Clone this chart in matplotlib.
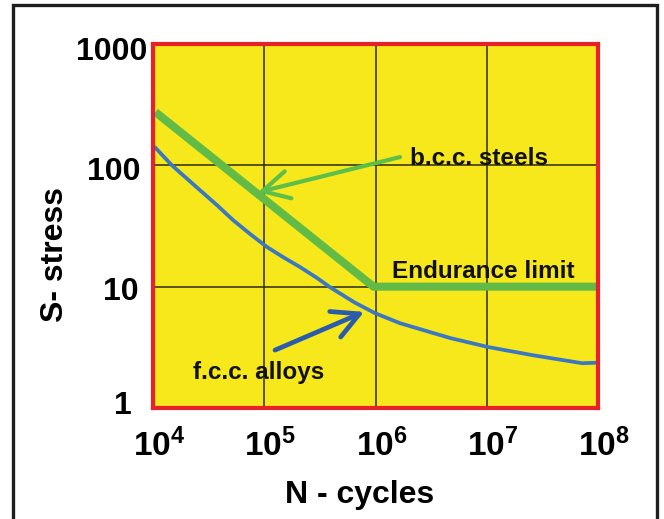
import matplotlib
matplotlib.use("Agg")
import matplotlib.pyplot as plt
from matplotlib.patches import Rectangle
from matplotlib.transforms import ScaledTranslation

# ---- data ----
bcc_N = [1.05e4, 9.6e5, 1.0e8]
bcc_S = [275, 10, 10]

fcc_N = [1.04e4, 1.48e4, 1.86e4, 2.64e4, 3.76e4, 5.24e4, 7.45e4, 1.06e5, 1.48e5,
         2.1e5, 2.98e5, 3.9e5, 6.5e5, 9.9e5, 1.66e6, 4.7e6, 1.03e7, 2.55e7,
         7.2e7, 9.5e7]
fcc_S = [141, 100, 83, 62.5, 47, 35.4, 27.2, 21.2, 17.5,
         14.5, 11.8, 9.9, 7.4, 6.05, 5.0, 3.77, 3.18, 2.73,
         2.34, 2.36]

x_ticks = [1e4, 1e5, 1e6, 1e7, 1e8]
x_tick_labels = [r"$10^{4}$", r"$10^{5}$", r"$10^{6}$", r"$10^{7}$", r"$10^{8}$"]
y_ticks = [1, 10, 100, 1000]
y_tick_labels = ["1", "10", "100", "1000"]

bcc_label = "b.c.c. steels"
fcc_label = "f.c.c. alloys"
limit_label = "Endurance limit"
x_label = "N - cycles"
y_label = "S- stress"

# annotation anchor points (data coords)
bcc_arrow_tail = (1.66e6, 117)
bcc_arrow_head = (8.8e4, 60)
fcc_arrow_tail = (1.25e5, 3.0)
fcc_arrow_head = (7.9e5, 6.2)
bcc_text_pos = (2.05e6, 100)
limit_text_pos = (1.4e6, 11.7)
fcc_text_pos = (2.3e4, 1.72)

# ---- style ----
plt.rcParams['font.family'] = ['Liberation Sans', 'DejaVu Sans']
plt.rcParams['font.weight'] = 'bold'
plt.rcParams['mathtext.fontset'] = 'custom'
plt.rcParams['mathtext.rm'] = 'Liberation Sans:bold'
plt.rcParams['mathtext.it'] = 'Liberation Sans:bold'
plt.rcParams['mathtext.bf'] = 'Liberation Sans:bold'

W, H = 664, 519
fig = plt.figure(figsize=(W / 100, H / 100), dpi=100)
fig.patch.set_facecolor('white')

ax = fig.add_axes([153 / W, 1 - 408 / H, 445 / W, 364 / H])
ax.set_facecolor('#f6e81a')
ax.set_xscale('log')
ax.set_yscale('log')
ax.set_xlim(1e4, 1e8)
ax.set_ylim(1, 1000)

# grid
for xv in x_ticks[1:-1]:
    ax.axvline(xv, color='#2e2a10', lw=1.1, zorder=1)
for yv in y_ticks[1:-1]:
    ax.axhline(yv, color='#2e2a10', lw=1.1, zorder=1)

ax.plot(fcc_N, fcc_S, color='#3a78c2', lw=2.7, zorder=3, solid_capstyle='round',
        solid_joinstyle='round')
ax.plot(bcc_N, bcc_S, color='#62bb46', lw=5.8, zorder=4, solid_joinstyle='miter',
        solid_capstyle='butt')

ax.annotate('', xy=bcc_arrow_head, xytext=bcc_arrow_tail,
            arrowprops=dict(arrowstyle='->,head_length=0.95,head_width=0.5',
                            color='#5cbf4a', lw=3, shrinkA=0, shrinkB=0,
                            mutation_scale=20), zorder=5)
ax.annotate('', xy=fcc_arrow_head, xytext=fcc_arrow_tail,
            arrowprops=dict(arrowstyle='->,head_length=0.95,head_width=0.5',
                            color='#2a5cab', lw=3.4, shrinkA=0, shrinkB=0,
                            mutation_scale=20), zorder=5)

ax.text(*bcc_text_pos, bcc_label, fontsize=17.5, fontweight='bold', ha='left',
        va='baseline', color='#111111', zorder=6)
ax.text(*limit_text_pos, limit_label, fontsize=17.5, fontweight='bold', ha='left',
        va='baseline', color='#111111', zorder=6)
ax.text(*fcc_text_pos, fcc_label, fontsize=17.5, fontweight='bold', ha='left',
        va='baseline', color='#111111', zorder=6)

# ticks
ax.minorticks_off()
ax.set_xticks(x_ticks)
ax.set_xticklabels(x_tick_labels, fontsize=24)
ax.set_yticks(y_ticks)
ax.set_yticklabels(y_tick_labels, fontsize=23, fontweight='bold')
ax.tick_params(axis='both', length=0)
ax.tick_params(axis='x', pad=15)
ax.tick_params(axis='y', pad=8)
for lab in ax.get_xticklabels():
    lab.set_transform(lab.get_transform() + ScaledTranslation(6 / 100, 0, fig.dpi_scale_trans))
# small per-label nudges (pixels: dx, dy) to mimic the hand-placed labels
y_nudges = [(-10, 6), (-3, -2), (-1, -3), (5, -5)]
for lab, (dx, dy) in zip(ax.get_yticklabels(), y_nudges):
    lab.set_transform(lab.get_transform() +
                      ScaledTranslation(dx / 100, dy / 100, fig.dpi_scale_trans))

for sp in ax.spines.values():
    sp.set_color('#e8202a')
    sp.set_linewidth(3)
    sp.set_zorder(7)

# axis labels placed in figure pixel space
fig.text(360 / W, 1 - 503 / H, x_label, fontsize=23, fontweight='bold',
         ha='center', va='baseline')
fig.text(55 / W, 1 - 255 / H, y_label, fontsize=23, fontweight='bold',
         ha='center', va='center', rotation=90)

# outer dark frame
fig.patches.append(Rectangle((13 / W, -0.2), (657 - 13) / W, 1.2 - 5 / H,
                             transform=fig.transFigure, fill=False,
                             edgecolor='#1e1e1e', lw=2.4, zorder=10))

fig.savefig('out.png', dpi=100)
